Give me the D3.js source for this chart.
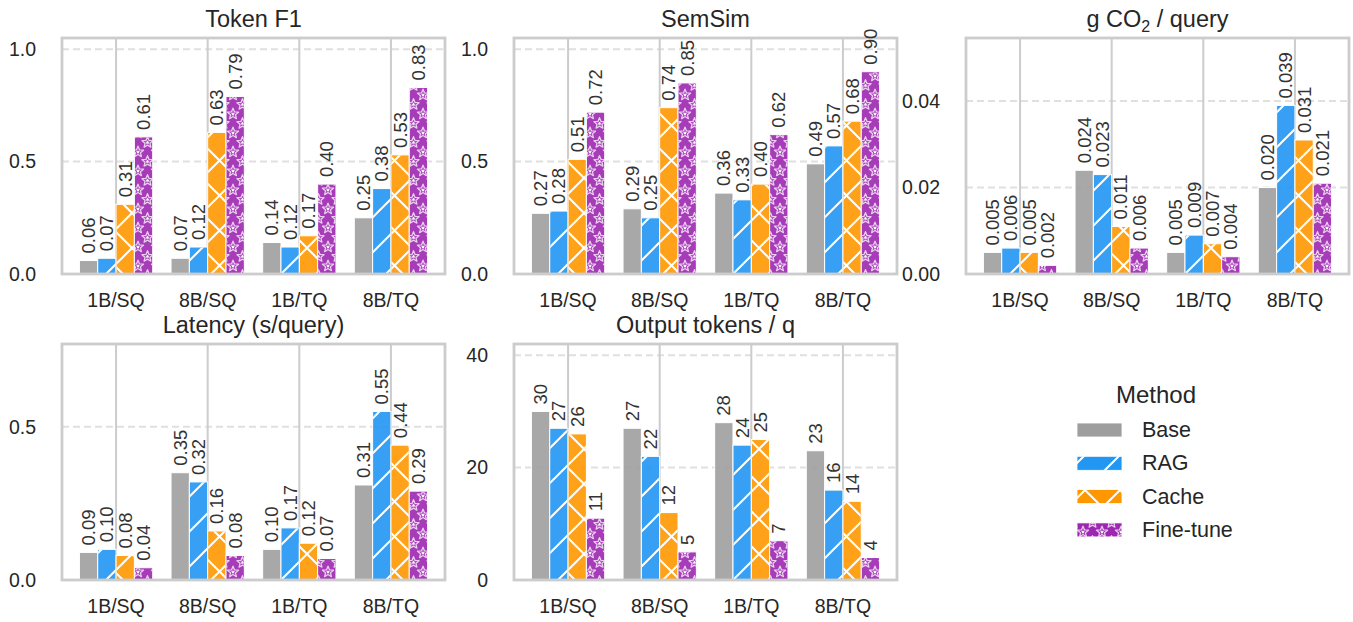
<!DOCTYPE html>
<html>
<head>
<meta charset="utf-8">
<script src="https://cdn.jsdelivr.net/npm/d3@7"></script>
<style>
  body { margin: 0; background: #fff; }
  svg text { font-family: "Liberation Sans", Arial, sans-serif; fill: #262626; }
</style>
</head>
<body>
<div id="chart"></div>
<script>
// Categories on the x axis and the four methods
const groups = ["1B/SQ", "8B/SQ", "1B/TQ", "8B/TQ"];
const methods = ["Base", "RAG", "Cache", "Fine-tune"];

// Values: one row per group, in method order (Base, RAG, Cache, Fine-tune)
const tokenF1 = [
    [0.06, 0.07, 0.31, 0.61],
    [0.07, 0.12, 0.63, 0.79],
    [0.14, 0.12, 0.17, 0.40],
    [0.25, 0.38, 0.53, 0.83]
];
const semSim = [
    [0.27, 0.28, 0.51, 0.72],
    [0.29, 0.25, 0.74, 0.85],
    [0.36, 0.33, 0.40, 0.62],
    [0.49, 0.57, 0.68, 0.90]
];
const co2 = [
    [0.005, 0.006, 0.005, 0.002],
    [0.024, 0.023, 0.011, 0.006],
    [0.005, 0.009, 0.007, 0.004],
    [0.020, 0.039, 0.031, 0.021]
];
const latency = [
    [0.09, 0.10, 0.08, 0.04],
    [0.35, 0.32, 0.16, 0.08],
    [0.10, 0.17, 0.12, 0.07],
    [0.31, 0.55, 0.44, 0.29]
];
const outTokens = [
    [30, 27, 26, 11],
    [27, 22, 12, 5],
    [28, 24, 25, 7],
    [23, 16, 14, 4]
];

// Y tick values per panel
const ticksF1 = [0, 0.5, 1.0];
const ticksSem = [0, 0.5, 1.0];
const ticksCo2 = [0, 0.02, 0.04];
const ticksLat = [0, 0.5];
const ticksTok = [0, 20, 40];

// Colours and hatches per method
const colors = ["#9e9e9e", "#2196f3", "#ff9800", "#9c27b0"];
const hatches = [null, "hatch-rag", "hatch-cache", "hatch-star"];

// Panels (row, col) with label formats
const panels = [
    { title: "Token F1", values: tokenF1, ticks: ticksF1, fmt: ".2f", tfmt: ".1f", cap: 1.05, row: 0, col: 0 },
    { title: "SemSim", values: semSim, ticks: ticksSem, fmt: ".2f", tfmt: ".1f", cap: 1.05, row: 0, col: 1 },
    { title: "co2", values: co2, ticks: ticksCo2, fmt: ".3f", tfmt: ".2f", cap: null, row: 0, col: 2 },
    { title: "Latency (s/query)", values: latency, ticks: ticksLat, fmt: ".2f", tfmt: ".1f", cap: null, row: 1, col: 0 },
    { title: "Output tokens / q", values: outTokens, ticks: ticksTok, fmt: ".0f", tfmt: "d", cap: null, row: 1, col: 1 }
];

// Layout
const colX = [62, 514, 966];
const rowY = [38, 344];
const pw = 383, ph = 236;

var svg = d3.select("#chart")
    .append("svg")
    .attr("width", 1353)
    .attr("height", 622);

// Hatch patterns
var defs = svg.append("defs");

defs.append("pattern")
    .attr("id", "hatch-rag")
    .attr("patternUnits", "userSpaceOnUse")
    .attr("width", 35).attr("height", 35)
    .append("path")
    .attr("d", "M-5,5 L5,-5 M0,35 L35,0 M30,40 L40,30")
    .attr("stroke", "white")
    .attr("stroke-width", 2);

defs.append("pattern")
    .attr("id", "hatch-cache")
    .attr("patternUnits", "userSpaceOnUse")
    .attr("width", 35).attr("height", 35)
    .append("path")
    .attr("d", "M-5,5 L5,-5 M0,35 L35,0 M30,40 L40,30 M-5,30 L5,40 M0,0 L35,35 M30,-5 L40,5")
    .attr("stroke", "white")
    .attr("stroke-width", 2);

function starPath(cx, cy, R, r) {
    var pts = [];
    for (var i = 0; i < 10; i++) {
        var a = -Math.PI / 2 + i * Math.PI / 5;
        var rad = i % 2 === 0 ? R : r;
        pts.push([cx + rad * Math.cos(a), cy + rad * Math.sin(a)]);
    }
    return "M" + pts.map(p => p[0].toFixed(2) + "," + p[1].toFixed(2)).join("L") + "Z";
}

var starPat = defs.append("pattern")
    .attr("id", "hatch-star")
    .attr("patternUnits", "userSpaceOnUse")
    .attr("width", 19).attr("height", 19);

[[0, 0], [19, 0], [0, 19], [19, 19], [9.5, 9.5]].forEach(p => {
    starPat.append("path")
        .attr("d", starPath(p[0], p[1], 5.8, 2.6))
        .attr("fill", "none")
        .attr("stroke", "white")
        .attr("stroke-opacity", 0.75)
        .attr("stroke-width", 1.3)
        .attr("stroke-linejoin", "round");
    starPat.append("path")
        .attr("d", starPath(p[0], p[1], 2.1, 1))
        .attr("fill", "white");
});

// Draw each panel
panels.forEach(p => {
    var g = svg.append("g")
        .attr("transform", `translate(${colX[p.col]}, ${rowY[p.row]})`);

    var x0 = d3.scaleBand()
        .domain(groups)
        .range([0, pw])
        .paddingInner(0.2)
        .paddingOuter(0.19);

    var x1 = d3.scaleBand()
        .domain(methods)
        .range([0, x0.bandwidth()]);

    var maxV = d3.max(p.values, row => d3.max(row));
    var top = p.cap ? p.cap : maxV * 1.4;

    var y = d3.scaleLinear()
        .domain([0, top])
        .range([ph, 0]);

    // Horizontal dashed grid
    g.selectAll(".hgrid")
        .data(p.ticks.filter(t => t > 0))
        .enter()
        .append("line")
        .attr("x1", 0).attr("x2", pw)
        .attr("y1", d => y(d)).attr("y2", d => y(d))
        .attr("stroke", "#e0e0e0")
        .attr("stroke-width", 2)
        .attr("stroke-dasharray", "7,4");

    // Vertical solid grid at group centres
    g.selectAll(".vgrid")
        .data(groups)
        .enter()
        .append("line")
        .attr("x1", d => x0(d) + x0.bandwidth() / 2)
        .attr("x2", d => x0(d) + x0.bandwidth() / 2)
        .attr("y1", 0).attr("y2", ph)
        .attr("stroke", "#cccccc")
        .attr("stroke-width", 2);

    // Flatten data to bars
    var bars = [];
    p.values.forEach((row, gi) => {
        row.forEach((v, mi) => {
            bars.push({ group: groups[gi], m: mi, value: v });
        });
    });

    // Base colour
    g.selectAll(".bar")
        .data(bars)
        .enter()
        .append("rect")
        .attr("x", d => x0(d.group) + x1(methods[d.m]))
        .attr("y", d => y(d.value))
        .attr("width", x1.bandwidth())
        .attr("height", d => y(0) - y(d.value))
        .attr("fill", d => colors[d.m])
        .attr("fill-opacity", 0.9)
        .attr("stroke", "white")
        .attr("stroke-width", 1);

    // Hatch overlay
    g.selectAll(".hatch")
        .data(bars.filter(d => hatches[d.m]))
        .enter()
        .append("rect")
        .attr("x", d => x0(d.group) + x1(methods[d.m]) + 0.5)
        .attr("y", d => y(d.value) + 0.5)
        .attr("width", x1.bandwidth() - 1)
        .attr("height", d => Math.max(0, y(0) - y(d.value) - 1))
        .attr("fill", d => `url(#${hatches[d.m]})`);

    // Frame
    g.append("rect")
        .attr("width", pw)
        .attr("height", ph)
        .attr("fill", "none")
        .attr("stroke", "#cccccc")
        .attr("stroke-width", 2.8);

    // Bar value labels
    g.selectAll(".lbl")
        .data(bars)
        .enter()
        .append("text")
        .attr("transform", d => {
            var cx = x0(d.group) + x1(methods[d.m]) + x1.bandwidth() / 2 + 6.6;
            return `translate(${cx}, ${y(d.value) - 7}) rotate(-90)`;
        })
        .attr("text-anchor", "start")
        .attr("font-size", "18.5px")
        .style("fill", "#333")
        .text(d => d3.format(p.fmt)(d.value));

    // Y axis
    var ya = g.append("g")
        .call(d3.axisLeft(y).tickValues(p.ticks).tickSize(0).tickPadding(26).tickFormat(d3.format(p.tfmt)));
    ya.select(".domain").remove();
    ya.selectAll("text")
        .attr("font-size", "19.5px")
        .attr("font-family", null);

    // X axis
    var xa = g.append("g")
        .attr("transform", `translate(0, ${ph})`)
        .call(d3.axisBottom(x0).tickSize(0).tickPadding(19));
    xa.select(".domain").remove();
    xa.selectAll("text")
        .attr("font-size", "19.5px")
        .attr("font-family", null);

    // Title
    var title = g.append("text")
        .attr("x", pw / 2)
        .attr("y", -11)
        .attr("text-anchor", "middle")
        .attr("font-size", "23.5px");

    if (p.title === "co2") {
        title.append("tspan").text("g CO");
        title.append("tspan").attr("font-size", "16px").attr("dy", 5).text("2");
        title.append("tspan").attr("dy", -5).text(" / query");
    } else {
        title.text(p.title);
    }
});

// Legend
var legend = svg.append("g");

legend.append("text")
    .attr("x", 1156)
    .attr("y", 403)
    .attr("text-anchor", "middle")
    .attr("font-size", "24px")
    .text("Method");

methods.forEach((m, i) => {
    var yb = 437 + i * 33.3;
    legend.append("rect")
        .attr("x", 1077).attr("y", yb - 14)
        .attr("width", 45).attr("height", 14)
        .attr("fill", colors[i])
        .attr("stroke", "white")
        .attr("stroke-width", 0.8);
    if (hatches[i]) {
        legend.append("rect")
            .attr("x", 1077).attr("y", yb - 14)
            .attr("width", 45).attr("height", 14)
            .attr("fill", `url(#${hatches[i]})`);
    }
    legend.append("text")
        .attr("x", 1142)
        .attr("y", yb)
        .attr("font-size", "21.5px")
        .text(m);
});
</script>
</body>
</html>
